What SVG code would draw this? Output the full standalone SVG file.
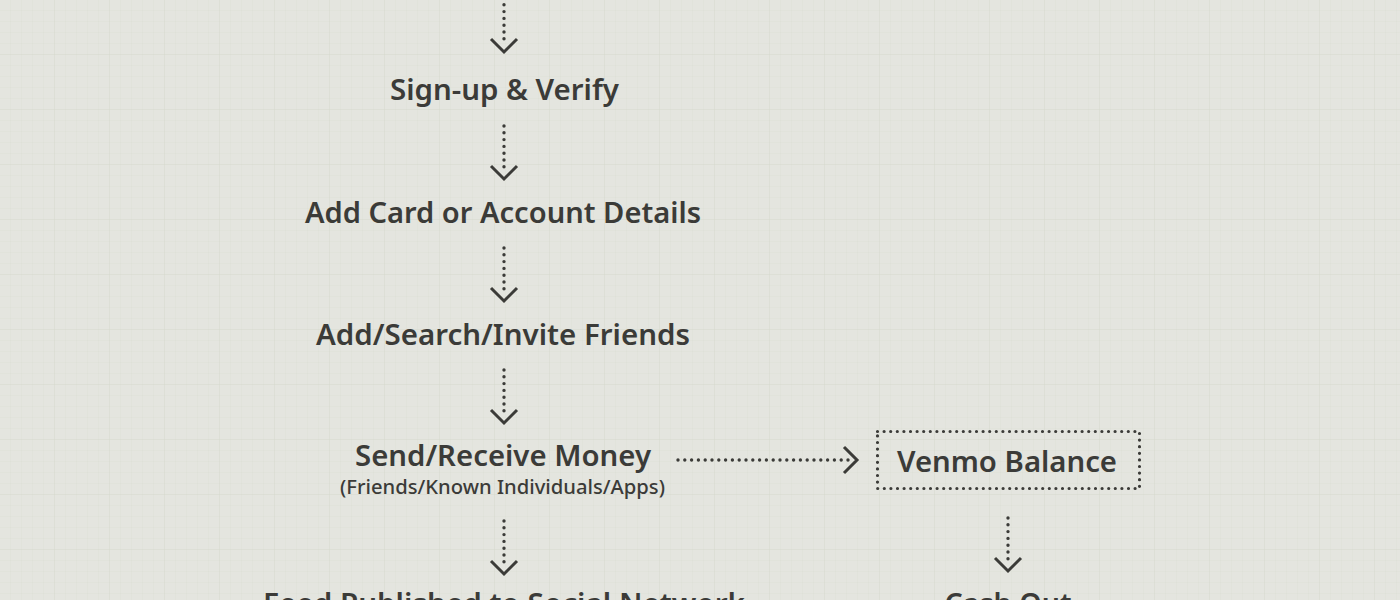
<svg xmlns="http://www.w3.org/2000/svg" width="1400" height="600" viewBox="0 0 1400 600">
  <defs>
    <pattern id="minor" width="11" height="11" patternUnits="userSpaceOnUse">
      <path d="M11 0V11M0 11H11" fill="none" stroke="#d6d9cf" stroke-width="1" opacity="0.5"/>
    </pattern>
    <pattern id="major" width="55" height="55" patternUnits="userSpaceOnUse">
      <path d="M55 0V55M0 55H55" fill="none" stroke="#d0d3c8" stroke-width="1" opacity="0.6"/>
    </pattern>
    <style>
      .t { font-family: "Noto Sans", "Open Sans", sans-serif; font-weight: 600; fill: #3b3b38; text-anchor: middle; }
      .big { font-size: 29px; }
      .small { font-size: 20px; font-weight: 500; }
      .dot { fill: none; stroke: #3b3b38; stroke-width: 3.4; stroke-linecap: round; stroke-dasharray: 0 6.8; }
      .arr { fill: none; stroke: #3b3b38; stroke-width: 3; stroke-linecap: butt; stroke-linejoin: miter; }
      .box { fill: none; stroke: #3b3b38; stroke-width: 3.2; stroke-linecap: round; stroke-dasharray: 0 6.6; }
    </style>
  </defs>
  <rect width="1400" height="600" fill="#e4e5df"/>
  <rect width="1400" height="600" fill="url(#minor)"/>
  <rect width="1400" height="600" fill="url(#major)"/>

  <g id="connectors">
    <path class="dot" d="M504 -2V45"/>
    <path class="arr" d="M491 39L504 52L517 39"/>
    <path class="dot" d="M504 126V172"/>
    <path class="arr" d="M491 166L504 179L517 166"/>
    <path class="dot" d="M504 248V294"/>
    <path class="arr" d="M491 288L504 301L517 288"/>
    <path class="dot" d="M504 370V416"/>
    <path class="arr" d="M491 410L504 423L517 410"/>
    <path class="dot" d="M678 460H851"/>
    <path class="arr" d="M844 447L857 460L844 473"/>
    <path class="dot" d="M504 521V567"/>
    <path class="arr" d="M491 561L504 574L517 561"/>
    <path class="dot" d="M1008 518V564"/>
    <path class="arr" d="M995 558L1008 571L1021 558"/>
  </g>

  <g id="node-signup">
    <text class="t big" x="504.5" y="100" textLength="229" lengthAdjust="spacingAndGlyphs">Sign-up &amp; Verify</text>
  </g>
  <g id="node-addcard">
    <text class="t big" x="503" y="223" textLength="396" lengthAdjust="spacingAndGlyphs">Add Card or Account Details</text>
  </g>
  <g id="node-friends">
    <text class="t big" x="503" y="345" textLength="374" lengthAdjust="spacingAndGlyphs">Add/Search/Invite Friends</text>
  </g>
  <g id="node-send">
    <text class="t big" x="503" y="466" textLength="296" lengthAdjust="spacingAndGlyphs">Send/Receive Money</text>
    <text class="t small" x="502.5" y="494" textLength="325" lengthAdjust="spacingAndGlyphs">(Friends/Known Individuals/Apps)</text>
  </g>
  <g id="node-balance">
    <rect class="box" x="877.5" y="431.5" width="262" height="57"/>
    <text class="t big" x="1007" y="472" textLength="220" lengthAdjust="spacingAndGlyphs">Venmo Balance</text>
  </g>
  <g id="node-feed">
    <text class="t big" x="504" y="614" textLength="482" lengthAdjust="spacingAndGlyphs">Feed Published to Social Network</text>
  </g>
  <g id="node-cashout">
    <text class="t big" x="1008" y="614" textLength="127" lengthAdjust="spacingAndGlyphs">Cash Out</text>
  </g>
</svg>
